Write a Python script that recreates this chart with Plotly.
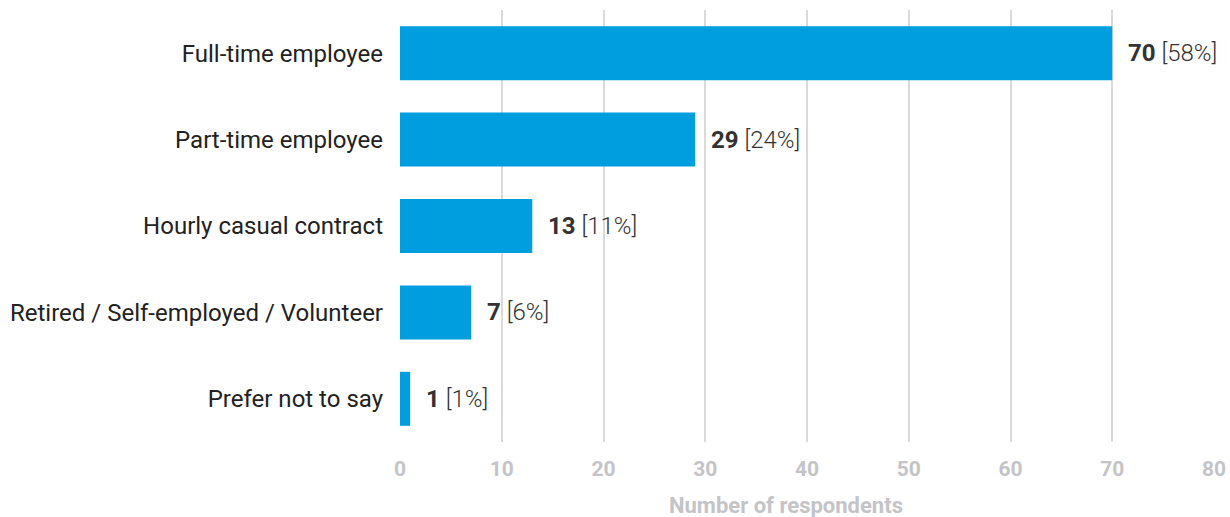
import plotly.graph_objects as go

categories = [
    "Full-time employee",
    "Part-time employee",
    "Hourly casual contract",
    "Retired / Self-employed / Volunteer",
    "Prefer not to say",
]
respondents = [70, 29, 13, 7, 1]
x_ticks = [0, 10, 20, 30, 40, 50, 60, 70, 80]

total = sum(respondents)
shares = [round(v / total * 100) for v in respondents]

fig = go.Figure(
    go.Bar(
        x=respondents,
        y=categories,
        orientation="h",
        marker=dict(color="#009ddf", line=dict(width=0)),
        hoverinfo="skip",
    )
)

for cat, v, s in zip(categories, respondents, shares):
    fig.add_annotation(
        x=v, y=cat, xref="x", yref="y",
        text=f"<b>{v}</b> [{s}%]",
        showarrow=False, xanchor="left", yanchor="middle", xshift=14,
        font=dict(family="Roboto", size=24, color="#333333", weight=300),
    )

fig.add_annotation(
    x=0.474, y=0, xref="paper", yref="paper", yshift=-63,
    text="<b>Number of respondents</b>", showarrow=False,
    xanchor="center", yanchor="middle",
    font=dict(family="Roboto", size=22, color="#c4c4c8"),
)

fig.update_layout(
    width=1230, height=517,
    margin=dict(l=400, r=16, t=10, b=75, autoexpand=False),
    paper_bgcolor="white", plot_bgcolor="white",
    bargap=0.375,
    showlegend=False,
    font=dict(family="Roboto", color="#222222"),
    xaxis=dict(
        range=[0, 80], tickvals=x_ticks,
        automargin=False, ticklabeloverflow="allow",
        showgrid=True, gridcolor="#dadada", gridwidth=2,
        zeroline=False, showline=False,
        ticks="outside", ticklen=8, tickcolor="rgba(0,0,0,0)",
        tickfont=dict(family="Roboto", size=21, color="#c4c4c8", weight="bold"),
    ),
    yaxis=dict(
        categoryorder="array", categoryarray=categories[::-1],
        automargin=False,
        showgrid=False, zeroline=False, showline=False,
        ticks="", ticklabelstandoff=16,
        tickfont=dict(family="Roboto", size=24, color="#222222"),
    ),
)

fig.write_html("out.html")
